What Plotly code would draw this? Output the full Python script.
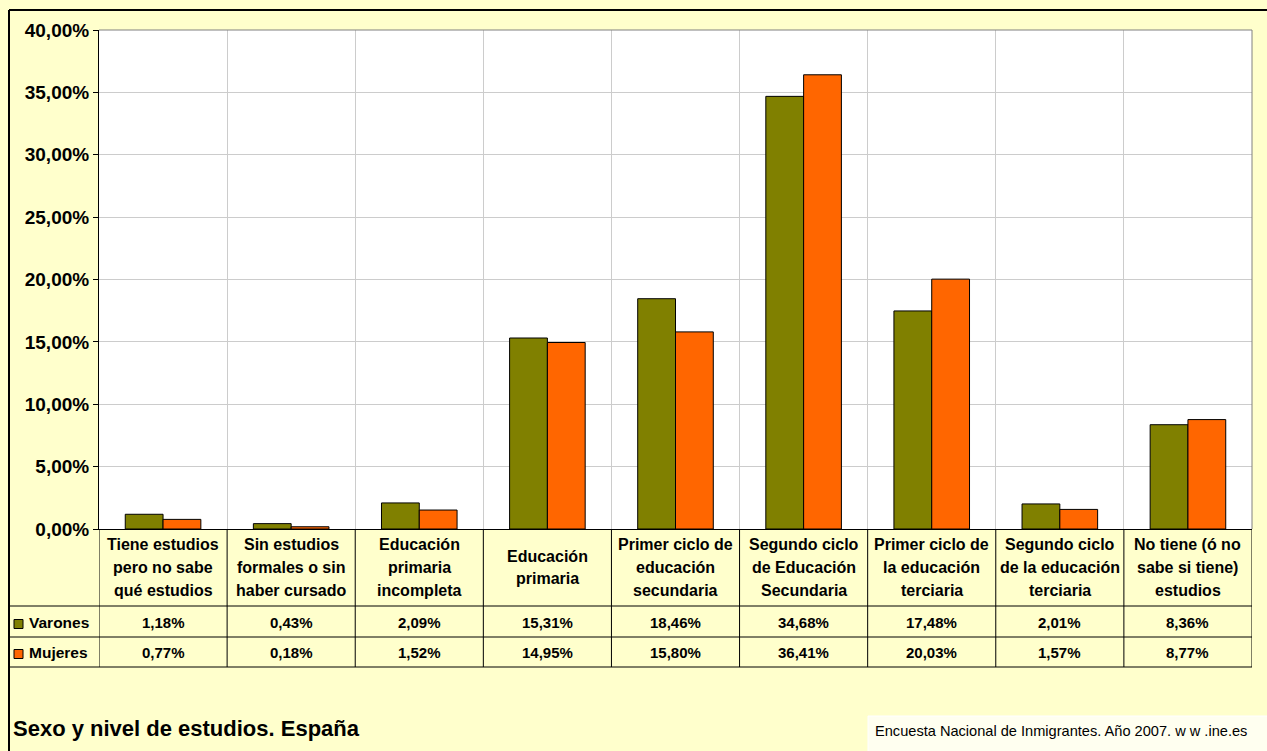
import plotly.graph_objects as go

categories = [
    "Tiene estudios<br>pero no sabe<br>qué estudios",
    "Sin estudios<br>formales o sin<br>haber cursado",
    "Educación<br>primaria<br>incompleta",
    "Educación<br>primaria",
    "Primer ciclo de<br>educación<br>secundaria",
    "Segundo ciclo<br>de Educación<br>Secundaria",
    "Primer ciclo de<br>la educación<br>terciaria",
    "Segundo ciclo<br>de la educación<br>terciaria",
    "No tiene (ó no<br>sabe si tiene)<br>estudios",
]
varones = [1.18, 0.43, 2.09, 15.31, 18.46, 34.68, 17.48, 2.01, 8.36]
mujeres = [0.77, 0.18, 1.52, 14.95, 15.80, 36.41, 20.03, 1.57, 8.77]
series_names = ["Varones", "Mujeres"]
series_colors = ["#808000", "#FF6600"]
title_text = "Sexo y nivel de estudios. España"
source_text = "Encuesta Nacional de Inmigrantes. Año 2007. w w .ine.es"

W, H = 1267, 751
L, R, T, B = 99, 1252, 30, 529
PW, PH = R - L, B - T
FONT = "Liberation Sans, Arial, sans-serif"


def px(x):
    return (x - L) / PW


def py(y):
    return (B - y) / PH


def fmt(v):
    return f"{v:.2f}%".replace(".", ",")


fig = go.Figure()
for name, vals, col in zip(series_names, [varones, mujeres], series_colors):
    fig.add_trace(go.Bar(
        x=categories, y=vals, name=name,
        marker=dict(color=col, line=dict(color="black", width=1)),
        hoverinfo="y+name",
    ))

shapes = []
annotations = []

# plot area top/right gray border
shapes.append(dict(type="line", xref="paper", yref="paper", x0=0, x1=1, y0=1, y1=1,
                   line=dict(color="#808080", width=1)))
shapes.append(dict(type="line", xref="paper", yref="paper", x0=1, x1=1, y0=0, y1=1,
                   line=dict(color="#808080", width=1)))

# outer frame (top and left)
shapes.append(dict(type="line", xref="paper", yref="paper", x0=px(9), x1=px(1270),
                   y0=py(10), y1=py(10), line=dict(color="black", width=2)))
shapes.append(dict(type="line", xref="paper", yref="paper", x0=px(9), x1=px(9),
                   y0=py(10), y1=py(755), line=dict(color="black", width=2)))

# source box
shapes.append(dict(type="rect", xref="paper", yref="paper", x0=px(868), x1=px(1275),
                   y0=py(716), y1=py(760), fillcolor="#FFFFF0",
                   line=dict(color="white", width=1), layer="below"))

# data table lines
row_y = [606, 637, 667]
for yy in row_y:
    shapes.append(dict(type="line", xref="paper", yref="paper", x0=px(9), x1=1,
                       y0=py(yy), y1=py(yy), line=dict(color="black", width=1)))
for i in range(len(categories) + 1):
    shapes.append(dict(type="line", xref="x", yref="paper", x0=i - 0.5, x1=i - 0.5,
                       y0=py(529), y1=py(667), line=dict(color="black", width=1)))

# header labels
for i, cat in enumerate(categories):
    lines = cat.split("<br>")
    n = len(lines)
    centre = 567.5
    step = 22.6
    for k, ln in enumerate(lines):
        yc = centre + (k - (n - 1) / 2) * step
        annotations.append(dict(x=cat, y=py(yc), xref="x", yref="paper", text=ln,
                                showarrow=False, xanchor="center", yanchor="middle",
                                font=dict(family=FONT, size=16, color="black", weight="bold")))

# value rows and legend keys
row_centres = [622, 652]
for vals, name, col, yc in zip([varones, mujeres], series_names, series_colors, row_centres):
    for cat, v in zip(categories, vals):
        annotations.append(dict(x=cat, y=py(yc), xref="x", yref="paper", text=fmt(v),
                                showarrow=False, xanchor="center", yanchor="middle",
                                font=dict(family=FONT, size=15, color="black", weight="bold")))
    shapes.append(dict(type="rect", xref="paper", yref="paper", x0=px(14), x1=px(23),
                       y0=py(yc + 2 + 4.5), y1=py(yc + 2 - 4.5), fillcolor=col,
                       line=dict(color="black", width=1)))
    annotations.append(dict(x=px(27), y=py(yc), xref="paper", yref="paper", text=name,
                            showarrow=False, xanchor="left", yanchor="middle",
                            font=dict(family=FONT, size=15.5, color="black", weight="bold")))

# title and source
annotations.append(dict(x=px(11), y=py(728), xref="paper", yref="paper", text=title_text,
                        showarrow=False, xanchor="left", yanchor="middle",
                        font=dict(family=FONT, size=22, color="black", weight="bold")))
annotations.append(dict(x=px(873), y=py(731), xref="paper", yref="paper", text=source_text,
                        showarrow=False, xanchor="left", yanchor="middle",
                        font=dict(family=FONT, size=14.6, color="black")))

fig.update_layout(
    width=W, height=H,
    margin=dict(l=L, r=W - R, t=T, b=H - B, pad=0),
    paper_bgcolor="#FFFFCC",
    plot_bgcolor="white",
    barmode="group",
    bargap=0.41,
    bargroupgap=0,
    showlegend=False,
    separators=",.",
    shapes=shapes,
    annotations=annotations,
    xaxis=dict(
        type="category", tickson="boundaries", showgrid=True, gridcolor="#CCCCCC",
        gridwidth=1, showticklabels=False, ticks="", showline=True,
        linecolor="black", linewidth=1, range=[-0.5, len(categories) - 0.5],
        fixedrange=True, zeroline=False,
    ),
    yaxis=dict(
        range=[0, 40], dtick=5, tick0=0, tickformat=".2f", ticksuffix="%",
        showgrid=True, gridcolor="#CCCCCC", gridwidth=1, showline=True,
        linecolor="black", linewidth=1, ticks="outside", ticklen=5,
        tickcolor="black", zeroline=False, fixedrange=True,
        tickfont=dict(family=FONT, size=19, color="black", weight="bold"),
    ),
)

fig.write_html("out.html")
